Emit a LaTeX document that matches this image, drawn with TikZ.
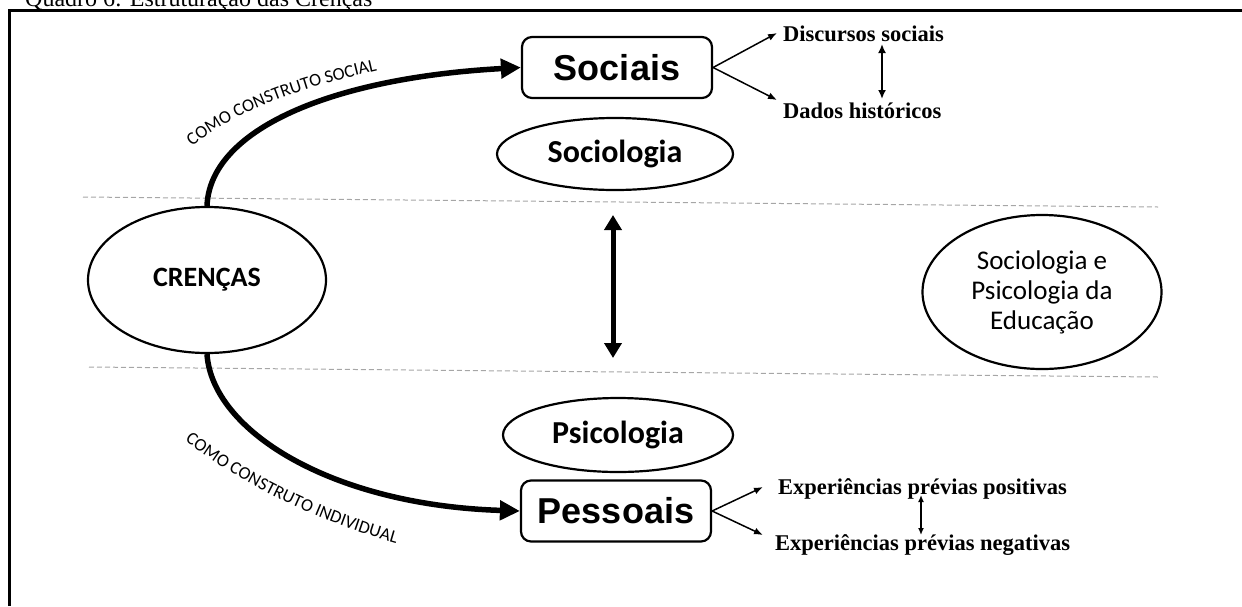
\documentclass[tikz,border=0pt]{standalone}
\usepackage{fontspec}
\setmainfont{Liberation Serif}
\newfontfamily\carl{Carlito}
\newfontfamily\lsans{Liberation Sans}
\usetikzlibrary{arrows.meta,shapes.geometric,decorations.text}
\newcommand{\myfs}[1]{\fontsize{#1}{#1}\selectfont}
\begin{document}
\begin{tikzpicture}[x=1pt,y=-1pt,
  frame/.style={line width=3pt},
  sep/.style={draw=gray!70, line width=1pt, dash pattern=on 5pt off 3pt},
  ell/.style={draw, ellipse, line width=2.2pt, inner sep=0pt},
  box/.style={draw, rounded corners=10pt, line width=2.2pt, minimum width=190pt, minimum height=61pt, inner sep=0pt, font=\lsans\bfseries\myfs{36}},
  big/.style={line width=5.5pt, -{Triangle[length=20pt,width=19pt]}},
  thinarr/.style={line width=1.5pt, -{Latex[length=9pt,width=7pt]}},
  item/.style={font=\bfseries\myfs{22.5}, anchor=base west, inner sep=0pt},
  lbl/.style={decorate, decoration={text along path, text align=center, text={#1}}},
]
\useasboundingbox (0,0) rectangle (1242,606);

% title and frame
\node[anchor=base west, inner sep=0pt, font=\myfs{24}] (title) at (25,6) {Quadro 6: Estruturação das Crenças};
\draw[frame] (9,606) -- (9,10) -- (1242,10);

% dashed separators
\draw[sep] (83,197) -- (1158,207);
\draw[sep] (89,367) -- (1158,377);

% nodes
\node[ell, minimum width=238pt, minimum height=146pt, font=\carl\bfseries\myfs{28}] (cren) at (207,280) {CRENÇAS};
\node[box] (soc) at (617,67.5) {Sociais};
\node[box] (pes) at (616,511) {Pessoais};
\node[ell, minimum width=236pt, minimum height=72pt, font=\carl\bfseries\myfs{32}] (sociol) at (615,154) {Sociologia};
\node[ell, minimum width=230pt, minimum height=74pt, font=\carl\bfseries\myfs{32}] (psico) at (618,435) {Psicologia};
\node[ell, minimum width=239pt, minimum height=154pt, align=center, font=\carl\fontsize{27}{30}\selectfont] (edu) at (1042,292) {Sociologia e\\Psicologia da\\Educação};

\node[item] (disc) at (783,41) {Discursos sociais};
\node[item] (dados) at (783,118) {Dados históricos};
\node[item] (pos) at (778,494) {Experiências prévias positivas};
\node[item] (neg) at (775,550) {Experiências prévias negativas};

% arrow end points
\coordinate (t1) at (777,33);
\coordinate (t2) at (777,100);
\coordinate (t3) at (763,487);
\coordinate (t4) at (763,535);
\coordinate (d1) at (882,44);
\coordinate (d2) at (882,99);
\coordinate (d3) at (921,495);
\coordinate (d4) at (921,535);
\coordinate (m1) at (613,215);
\coordinate (m2) at (613,358);

% curved main arrows
\draw[big] (cren.north) .. controls (210,130) and (330,78) .. (soc.west);
\draw[big] (cren.south) .. controls (212,430) and (330,505) .. (pes.west);

% curved labels
\path[lbl={|\carl\myfs{18}|COMO CONSTRUTO SOCIAL}] (190,148) .. controls (235,110) and (300,88) .. (380,70);
\path[lbl={|\carl\myfs{18}|COMO CONSTRUTO INDIVIDUAL}] (180,437) .. controls (232,478) and (305,518) .. (402,545);

% small arrows
\draw[thinarr] (soc.east) -- (t1);
\draw[thinarr] (soc.east) -- (t2);
\draw[thinarr] (pes.east) -- (t3);
\draw[thinarr] (pes.east) -- (t4);
\draw[line width=2.5pt, {Latex[length=9pt,width=8pt]}-{Latex[length=9pt,width=8pt]}] (d1) -- (d2);
\draw[line width=1.5pt, {Latex[length=7pt,width=6pt]}-{Latex[length=7pt,width=6pt]}] (d3) -- (d4);

% middle double arrow
\draw[line width=5pt, {Triangle[length=15pt,width=17pt]}-{Triangle[length=15pt,width=17pt]}] (m1) -- (m2);
\end{tikzpicture}
\end{document}
